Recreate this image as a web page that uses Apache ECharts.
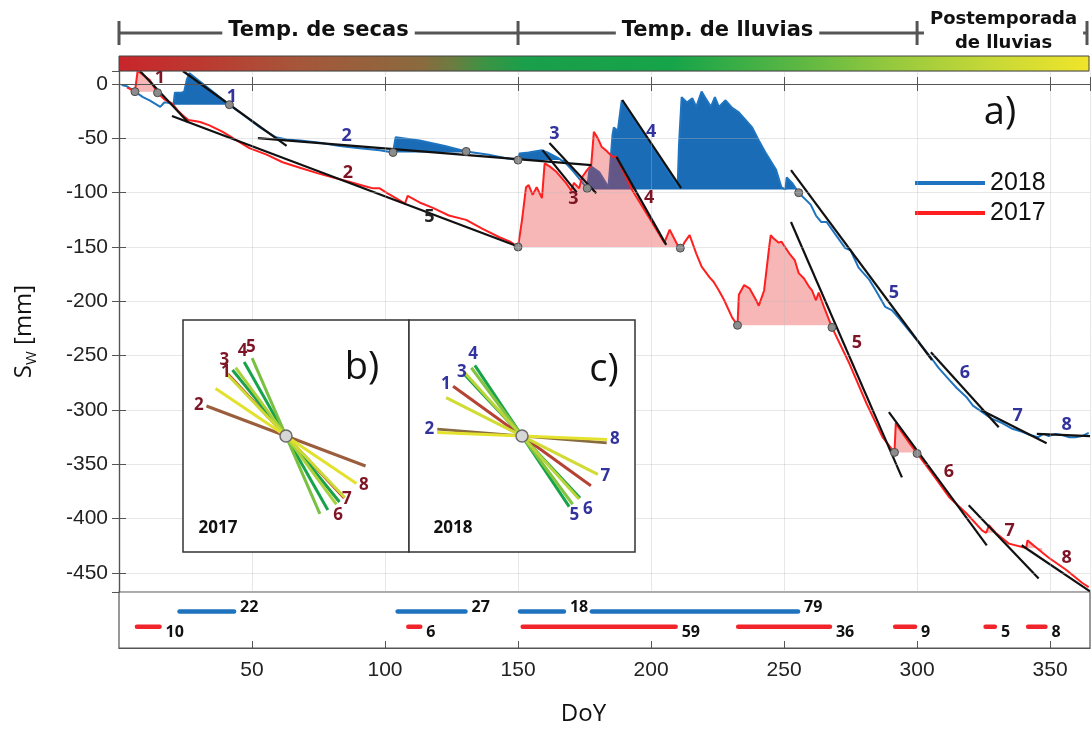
<!DOCTYPE html>
<html>
<head>
<meta charset="utf-8">
<script src="https://cdn.jsdelivr.net/npm/echarts@6/dist/echarts.min.js"></script>
<style>
html,body{margin:0;padding:0;background:#fff}
#chart{width:1091px;height:729px}
</style>
</head>
<body>
<div id="chart"></div>
<script>
// ---- Soil water storage S_W [mm] by day of year (DoY) ----
const curve2018 = [
  [1,-1],[3,-2],[6,-7],[9,-12],[11.5,-15],[13.5,-18],[15.5,-21],[17,-17],[18,-17],[19.5,-18],[20.5,-19],
  [21,-8],[23.5,-8],[24.5,-7],[25.5,4],[26.5,10],[41.5,-19],[47,-29],[53,-40],[59,-49],[63,-51],[68,-52],
  [75.5,-54],[83,-57],[90.5,-59],[98,-61],[103,-63],[104,-49],[113,-52],[122.5,-57],[130.5,-62],[139,-65],
  [145,-68],[150,-70],[150.5,-64],[154,-63],[159,-61],[161,-63],[165,-68],[168,-73],[171,-81],[174,-90],
  [176,-96],[177,-75],[180.5,-81],[184,-95],[185.5,-47],[186,-40],[187.5,-43],[188.5,-24],[189,-15],
  [199,-52],[210,-94],[210.5,-56],[211.5,-12],[213.5,-17],[215.5,-13],[217,-21],[219,-7],[220.5,-13],
  [222.5,-21],[224,-12],[225.5,-21],[228,-15],[230.5,-22],[233,-26],[235.5,-33],[238,-40],[240.5,-52],
  [243,-63],[247,-79],[249,-95],[250.5,-97],[251,-86],[253,-91],[255.5,-100],[260,-111],[262,-121],
  [264,-127],[266,-127],[269.5,-139],[273,-151],[275,-153],[278,-169],[282,-180],[284.5,-190],[288,-205],
  [290.5,-208],[293,-215],[296,-224],[299,-233],[302,-242],[305,-251],[308,-261],[312,-272],[315,-280],
  [318.5,-288],[321,-296],[324.5,-302],[328,-308],[332,-312],[335.5,-317],[339.5,-320],[342.5,-323],
  [345.5,-325],[347.5,-322],[349.5,-324],[352,-322],[354.5,-323],[357,-325],[359.5,-325],[362,-324],[364.5,-321]
];
const curve2017 = [
  [3,-3],[6,-7],[7,12],[7.5,12],[11.5,4],[14.5,-8],[17,-14],[20,-18],[22,-24],[24,-29],[26,-33],[28.5,-34],
  [30.5,-35],[34,-38],[39,-44],[43,-50],[49,-59],[55.5,-65],[61.5,-72],[68,-77],[74.5,-82],[80.5,-86],
  [86.5,-90],[92.5,-94],[95.5,-96],[98,-96],[100.5,-100],[105.5,-107],[107.5,-110],[108.5,-103],[113,-109],
  [118,-114],[124,-121],[130.5,-125],[136.5,-133],[143,-141],[147,-145],[150,-150],[151.5,-125],[153,-95],
  [154,-93],[155.5,-102],[157,-95],[159,-105],[160,-73],[160.5,-72],[162,-76],[164.5,-81],[168,-91],
  [170,-98],[171,-91],[173,-96],[174,-86],[176,-79],[177.5,-75],[178.5,-44],[180,-50],[181.5,-58],
  [183,-61],[185.5,-67],[187,-67],[193,-98],[199,-122],[205,-146],[207,-134],[209.5,-146],[211,-153],
  [212.5,-146],[214.5,-139],[217,-156],[219,-168],[222,-178],[223.5,-182],[225.5,-190],[227.5,-199],
  [230.5,-215],[232.5,-222],[233,-194],[235,-185],[237,-188],[239.5,-199],[240.5,-204],[242.5,-190],
  [244.5,-148],[245,-139],[246,-142],[248,-146],[249,-145],[252,-156],[254,-162],[255.5,-174],[257.5,-179],
  [259.5,-187],[260.5,-190],[262,-199],[263,-192],[265,-205],[268,-224],[274.5,-257],[281,-294],[287,-325],
  [291.5,-339],[292,-312],[293,-316],[297,-330],[300,-340],[305.5,-358],[312,-380],[318.5,-395],[324.5,-411],
  [326,-413],[327,-406],[329.5,-413],[334.5,-423],[341,-427],[341.5,-420],[344.5,-426],[349.5,-436],
  [356,-447],[362,-459],[364.5,-463]
];

// Storage gained during rain events: [startDay, endDay, baseline S_W]
const gain2018 = [[20.5,41.5,-19],[103,130.5,-63],[150,168,-70],[176,255.5,-97]];
const gain2017 = [[6,14.5,-7],[150,211,-150],[232.5,268,-222],[291.5,300,-339],[326,329.5,-413],[341,347,-427]];

// Recession lines for events 1..8: [[day, S], [day, S]]
const recess2018 = [
  [[24,12],[63,-57]], [[52.2,-49.7],[177.6,-74.6]], [[161.8,-54.3],[179.4,-100.4]], [[189.2,-14.7],[211.3,-95.8]],
  [[252.6,-79.2],[305.6,-254]], [[305.2,-246.8],[330.7,-315.8]], [[324,-300],[348.7,-330.6]], [[345,-322],[365,-324]]
];
const recess2017 = [
  [[7.9,12],[25.9,-35]], [[19.9,-29.5],[150.5,-150]], [[159.2,-60.8],[172,-99.5]], [[187,-67],[205.7,-148]],
  [[252.6,-127],[294.3,-362]], [[289.4,-302],[326.2,-424.5]], [[319.4,-387.7],[345.7,-455]], [[339.3,-424.5],[365,-467]]
];

// Event onset points
const onsets = [[6,-7],[14.5,-8],[41.5,-19],[103,-63],[130.5,-62],[150,-70],[150,-150],[176,-96],
  [211,-151],[232.5,-222],[255.5,-100],[268,-224],[291.5,-339],[300,-340]];

// Event number annotations: [day, S, text]
const notes2018 = [[42.4,-12,'1'],[85.6,-48,'2'],[163.7,-46,'3'],[200,-44,'4'],[291.3,-192.5,'5'],[318,-266,'6'],[337.8,-305,'7'],[356.2,-314,'8']];
const notes2017 = [[15.4,5.5,'1'],[86,-82,'2'],[170.8,-106,'3'],[199.3,-105,'4'],[277.4,-238.5,'5'],[312,-357,'6'],[334.8,-411.6,'7'],[356.2,-436.5,'8']];
const notesOther = [[116.7,-122.5,'5']];

// Event durations (days): [startDay, endDay]
const span2018 = [[22,44],[104,131],[150,168],[177,256]];
const span2017 = [[6,16],[108,114],[151,210],[232,268],[291,300],[325,330],[341,349]];

// Seasons along the year
const seasons = [['Temp. de secas',0,150],['Temp. de lluvias',150,300],['Postemporada\nde lluvias',300,365]];

// ---- styling / layout ----
const COLORBAR = [[0,'#c9252b'],[32,'#bc3a30'],[67,'#a6563a'],[114,'#8a6a3e'],[126,'#6a7d40'],[138,'#3a9444'],
  [153,'#1a9f4a'],[208,'#16a449'],[255,'#5bb743'],[291,'#96c93e'],[330,'#c9d936'],[365,'#f0e52a']];
const X_MIN = 0, X_MAX = 365, Y_MIN = -467.5, Y_MAX = 12;
const G = {left:119, top:71, width:971, height:521};
const XS = G.width / (X_MAX - X_MIN), YS = G.height / (Y_MAX - Y_MIN);
const INSETS = [
  {left:183, top:320, width:226, height:232, cx:286, cy:436},
  {left:409, top:320, width:226, height:232, cx:522, cy:436}
];
const HALF = 85;
const BLUE = '#1f74c0', BLUE_FILL = '#1b6cb6', RED = '#ff1f1f', RED_FILL = 'rgba(235,50,50,0.35)';
const BLUE_TXT = '#33339e', RED_TXT = '#7e1526';
const AX = '#555';

function hexRgb(h){return [1,3,5].map(i=>parseInt(h.slice(i,i+2),16));}
function colorAt(day){
  for(let i=1;i<COLORBAR.length;i++){
    if(day<=COLORBAR[i][0]){
      const [d0,c0]=COLORBAR[i-1],[d1,c1]=COLORBAR[i];
      const t=(day-d0)/(d1-d0), a=hexRgb(c0), b=hexRgb(c1);
      return 'rgb('+a.map((v,j)=>Math.round(v+(b[j]-v)*t)).join(',')+')';
    }
  }
  return COLORBAR[COLORBAR.length-1][1];
}
function interp(curve, d){
  for(let i=1;i<curve.length;i++){
    if(d<=curve[i][0]){
      const [x0,y0]=curve[i-1],[x1,y1]=curve[i];
      return x1===x0?y1:y0+(y1-y0)*(d-x0)/(x1-x0);
    }
  }
  return curve[curve.length-1][1];
}

function gainSeries(curve, events, fill, z){
  return {
    type:'custom', xAxisIndex:0, yAxisIndex:0, z, silent:true, clip:true,
    data: events, encode:{x:[0,1], y:2},
    renderItem(params, api){
      const [s,e,b] = events[params.dataIndex];
      const pts = [[s,b],[s,interp(curve,s)]];
      curve.forEach(p=>{ if(p[0]>s && p[0]<e) pts.push(p); });
      pts.push([e,interp(curve,e)],[e,b]);
      return {type:'polygon', shape:{points:pts.map(p=>api.coord(p))}, style:{fill}};
    }
  };
}
function recessSeries(recess, z){
  return {type:'lines', coordinateSystem:'cartesian2d', xAxisIndex:0, yAxisIndex:0, z, silent:true,
    lineStyle:{color:'#111', width:2.2, opacity:1},
    data: recess.map(r=>({coords:r}))};
}
function noteSeries(notes, color){
  return {type:'scatter', xAxisIndex:0, yAxisIndex:0, z:9, symbolSize:1, silent:true,
    data: notes, itemStyle:{opacity:0},
    label:{show:true, position:'inside', formatter:p=>p.data[2], color, opacity:1,
      fontFamily:'Open Sans', fontWeight:'bold', fontSize:18}};
}
function insetSeries(recess, idx, color, firstEnd){
  const angles = recess.map(([p,q])=>Math.atan(-(q[1]-p[1])/(q[0]-p[0])*YS/XS));
  const data = recess.map(([p,q],i)=>{
    const k = (q[1]-p[1])/(q[0]-p[0]);
    const hx = HALF/Math.sqrt(XS*XS + (k*YS)*(k*YS));
    const atEnd = i+1>=firstEnd;
    // push a label outward when an earlier label on the same side sits at almost the same angle
    const crowded = angles.slice(0,i).some((a,j)=>((j+1>=firstEnd)===atEnd) && Math.abs(a-angles[i])<0.1);
    return {coords:[[-hx,-hx*k],[hx,hx*k]],
      lineStyle:{color:colorAt((p[0]+q[0])/2)},
      label:{position: atEnd ? 'end' : 'start', distance: crowded ? 13 : 3}};
  });
  return [
    {type:'lines', coordinateSystem:'cartesian2d', xAxisIndex:2+idx, yAxisIndex:2+idx, z:12, silent:true,
      lineStyle:{width:3, opacity:1},
      label:{show:true, formatter:p=>String(p.dataIndex+1), color, fontFamily:'Open Sans',
        fontWeight:'bold', fontSize:17, distance:3},
      data},
    {type:'scatter', xAxisIndex:2+idx, yAxisIndex:2+idx, z:13, silent:true, symbolSize:12,
      itemStyle:{color:'#d6d6d6', borderColor:'#6a6a6a', borderWidth:1.5, opacity:1}, data:[[0,0]]}
  ];
}
function spanSeries(spans, level, color, dy){
  return {
    type:'custom', xAxisIndex:4, yAxisIndex:4, z:5, silent:true,
    data: spans.map(s=>[s[0],s[1],level]), encode:{x:[0,1], y:2},
    renderItem(params, api){
      const [s,e] = spans[params.dataIndex];
      const a = api.coord([s,level]), b = api.coord([e,level]);
      return {type:'group', children:[
        {type:'line', shape:{x1:a[0]+2,y1:a[1],x2:b[0]-2,y2:b[1]},
          style:{stroke:color, lineWidth:4.5, lineCap:'round'}},
        {type:'text', x:b[0]+4, y:b[1]+dy,
          style:{text:String(e-s), fill:'#111', font:'bold 16px "Open Sans"', align:'left', verticalAlign:'middle'}}
      ]};
    }
  };
}

const insetX = INSETS.map((b,i)=>({type:'value', gridIndex:1+i, show:false,
  min:-(b.cx-b.left)/XS, max:(b.left+b.width-b.cx)/XS}));
const insetY = INSETS.map((b,i)=>({type:'value', gridIndex:1+i, show:false,
  min:-(b.top+b.height-b.cy)/YS, max:(b.cy-b.top)/YS}));

const tickLabel = {color:'#222', fontFamily:'Liberation Sans', fontSize:21};
const option = {
  animation:false,
  backgroundColor:'#fff',
  grid:[
    {left:G.left, top:G.top, width:G.width, height:G.height},
    ...INSETS.map(b=>({left:b.left, top:b.top, width:b.width, height:b.height, show:true, z:10,
      backgroundColor:'#fff', borderColor:'#333', borderWidth:1.5})),
    {left:G.left, top:G.top+G.height, width:G.width, height:56, show:true, borderColor:AX, borderWidth:1.2}
  ],
  xAxis:[
    {type:'value', gridIndex:0, min:X_MIN, max:X_MAX, splitNumber:7, z:9, position:'bottom',
      axisLine:{lineStyle:{color:AX, width:1.2}}, axisTick:{inside:true, length:7, lineStyle:{color:AX}},
      axisLabel:{show:false}, splitLine:{show:true, lineStyle:{color:'rgba(185,185,185,0.35)', width:1}}},
    {type:'value', gridIndex:0, min:X_MIN, max:X_MAX, splitNumber:7, z:9, position:'top',
      axisLine:{lineStyle:{color:AX, width:1.2}}, axisTick:{inside:true, length:7, lineStyle:{color:AX}},
      axisLabel:{show:false}, splitLine:{show:false}},
    ...insetX,
    {type:'value', gridIndex:3, min:X_MIN, max:X_MAX, splitNumber:7, position:'bottom',
      axisLine:{lineStyle:{color:AX, width:1.2}}, axisTick:{inside:true, length:7, lineStyle:{color:AX}},
      axisLabel:{...tickLabel, margin:12, showMinLabel:false, showMaxLabel:false}, splitLine:{show:false},
      name:'DoY', nameLocation:'middle', nameGap:54,
      nameTextStyle:{color:'#111', fontFamily:'Open Sans', fontSize:24, padding:[0,42,0,0]}}
  ],
  yAxis:[
    {type:'value', gridIndex:0, min:Y_MIN, max:Y_MAX, splitNumber:10, z:9, position:'left',
      axisLine:{show:true, lineStyle:{color:AX, width:1.2}}, axisTick:{show:true, inside:true, length:7, lineStyle:{color:AX}},
      axisLabel:{...tickLabel, margin:11, showMinLabel:false, showMaxLabel:false},
      splitLine:{show:true, lineStyle:{color:'rgba(185,185,185,0.35)', width:1}},
      name:'{s|S}{w|W}{s| [mm]}', nameLocation:'middle', nameRotate:90, nameGap:80,
      nameTextStyle:{rich:{
        s:{fontFamily:'Open Sans', fontSize:24, color:'#111', lineHeight:30, verticalAlign:'middle'},
        w:{fontFamily:'Open Sans', fontSize:15, color:'#111', lineHeight:30, verticalAlign:'bottom'}}}},
    {type:'value', gridIndex:0, min:Y_MIN, max:Y_MAX, splitNumber:10, z:9, position:'right',
      axisLine:{show:true, lineStyle:{color:AX, width:1.2}}, axisTick:{show:true, inside:true, length:7, lineStyle:{color:AX}},
      axisLabel:{show:false}, splitLine:{show:false}},
    ...insetY,
    {type:'value', gridIndex:3, min:0, max:1, show:false}
  ],
  legend:{
    data:['2018','2017'], orient:'vertical', left:910, top:165, itemWidth:70, itemHeight:4, itemGap:4,
    icon:'rect', textStyle:{fontFamily:'Liberation Sans', fontSize:25, color:'#111', lineHeight:26, padding:[0,0,0,0]}
  },
  series:[
    gainSeries(curve2018, gain2018, BLUE_FILL, 2),
    {name:'2018', type:'line', xAxisIndex:0, yAxisIndex:0, z:3, data:curve2018, symbol:'none',
      lineStyle:{color:BLUE, width:2}, itemStyle:{color:BLUE}},
    gainSeries(curve2017, gain2017, RED_FILL, 4),
    {name:'2017', type:'line', xAxisIndex:0, yAxisIndex:0, z:5, data:curve2017, symbol:'none',
      lineStyle:{color:RED, width:2}, itemStyle:{color:RED}},
    recessSeries(recess2017, 6),
    recessSeries(recess2018, 6),
    {type:'scatter', xAxisIndex:0, yAxisIndex:0, z:7, symbolSize:8, silent:true, data:onsets,
      itemStyle:{color:'#8c8c8c', borderColor:'#4a4a4a', borderWidth:1, opacity:1}},
    noteSeries(notes2018, BLUE_TXT),
    noteSeries(notes2017, RED_TXT),
    noteSeries(notesOther, '#222'),
    ...insetSeries(recess2017, 0, RED_TXT, 6),
    ...insetSeries(recess2018, 1, BLUE_TXT, 5),
    spanSeries(span2018, 0.65, '#1f72bd', -4),
    spanSeries(span2017, 0.38, '#f0242a', 6)
  ]
};

const chart = echarts.init(document.getElementById('chart'), null, {renderer:'canvas'});
chart.setOption(option);

// Header: season brackets, colour bar and panel tags
const px = d => chart.convertToPixel({xAxisIndex:0}, d);
const x0 = px(X_MIN), x1 = px(X_MAX);
const graphic = [];
graphic.push({type:'line', shape:{x1:x0, y1:33, x2:x1-2, y2:33}, style:{stroke:'#555', lineWidth:3}, z:20});
[0,150,300,X_MAX].forEach(d=>{
  const x = Math.min(px(d), x1-3);
  graphic.push({type:'line', shape:{x1:x, y1:21, x2:x, y2:45}, style:{stroke:'#555', lineWidth:3}, z:20});
});
seasons.forEach(([name,a,b])=>{
  const two = name.indexOf('\n')>=0;
  graphic.push({type:'text', x:(px(a)+px(b))/2, y:31, z:21,
    style:{text:name, align:'center', verticalAlign:'middle', fill:'#111',
      font:'bold '+(two?18:21)+'px "DejaVu Sans"', lineHeight:24,
      backgroundColor:'#fff', padding:[0,6]}});
});
graphic.push({type:'rect', shape:{x:x0, y:56, width:x1-x0-1, height:15}, z:20,
  style:{fill:new echarts.graphic.LinearGradient(0,0,1,0,
    COLORBAR.map(([d,c])=>({offset:(d-X_MIN)/(X_MAX-X_MIN), color:c}))), stroke:'#444', lineWidth:1}});
graphic.push({type:'text', x:1000, y:113, z:21, style:{text:'a)', align:'center', verticalAlign:'middle',
  fill:'#111', font:'38px "Open Sans"'}});
graphic.push({type:'text', x:362, y:368, z:21, style:{text:'b)', align:'center', verticalAlign:'middle',
  fill:'#111', font:'38px "Open Sans"'}});
graphic.push({type:'text', x:604, y:370, z:21, style:{text:'c)', align:'center', verticalAlign:'middle',
  fill:'#111', font:'38px "Open Sans"'}});
graphic.push({type:'text', x:218, y:528, z:21, style:{text:'2017', align:'center', verticalAlign:'middle',
  fill:'#111', font:'bold 17px "Open Sans"'}});
graphic.push({type:'text', x:453, y:528, z:21, style:{text:'2018', align:'center', verticalAlign:'middle',
  fill:'#111', font:'bold 17px "Open Sans"'}});
chart.setOption({graphic});
</script>
</body>
</html>
